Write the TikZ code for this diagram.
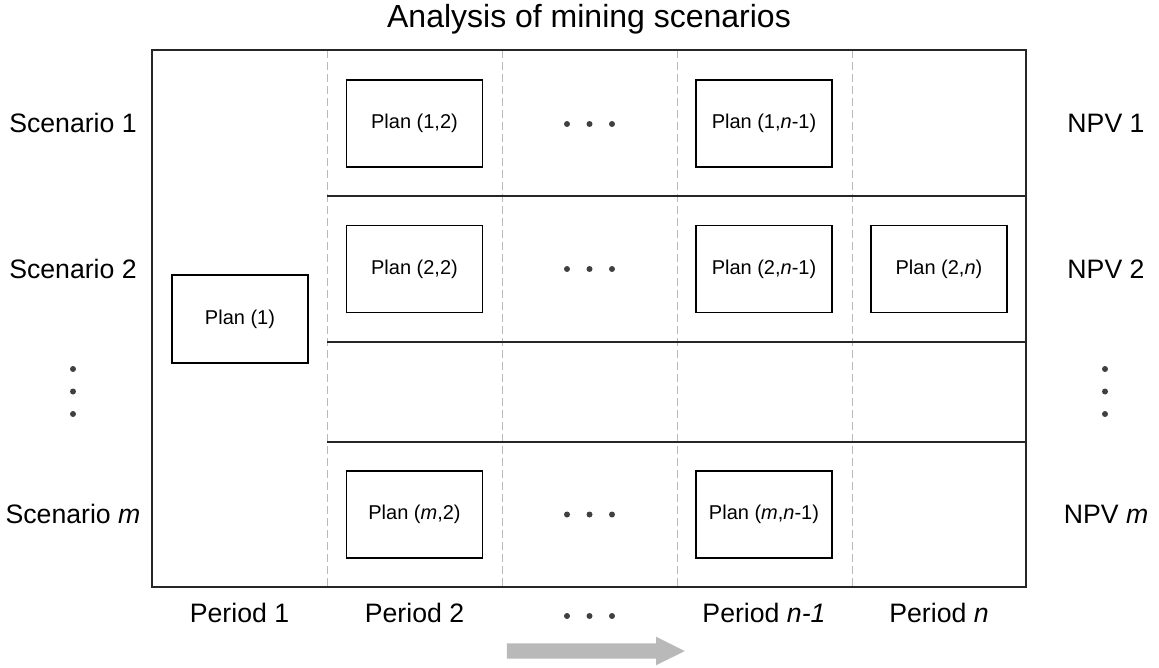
\documentclass[tikz,border=0pt]{standalone}
\usepackage{fontspec}
\setmainfont{Liberation Sans}
\usetikzlibrary{shapes.arrows}

\tikzset{
  plan/.style={draw=black, line width=0.9pt, minimum width=102pt, minimum height=65.25pt,
    inner sep=0pt, font=\fontsize{15pt}{18pt}\selectfont},
  rowlabel/.style={font=\fontsize{20pt}{24pt}\selectfont, inner sep=0pt, anchor=base},
  pdot/.style={circle, fill=black!75, inner sep=0pt, minimum size=4.5pt},
  divider/.style={gray!55, line width=0.75pt, dash pattern=on 6pt off 3pt},
  grid/.style={black!85, line width=0.8pt}
}

\begin{document}
\begin{tikzpicture}[x=0.75pt,y=0.75pt]
    \useasboundingbox (0,0) rectangle (1159,-667);
    \node[font=\fontsize{24pt}{28pt}\selectfont, inner sep=0pt, anchor=base] (title) at (589,-28) {Analysis of mining scenarios};
    % columns
    \foreach \x in {327,502,677,852}
        \draw[divider] (\x,-50) -- (\x,-587);
    % rows
    \draw[grid] (327,-196) -- (1026,-196);
    \draw[grid] (327,-342) -- (1026,-342);
    \draw[grid] (327,-442) -- (1026,-442);
    \draw[grid] (152,-50) rectangle (1026,-587);
    % plans
    \node[plan, line width=1.8pt, minimum height=66pt] (p1) at (240,-319) {Plan (1)};
    \node[plan] (p12) at (414.5,-123.5) {Plan (1,2)};
    \node[plan] (p1n) at (764,-123.5) {Plan (1,\textit{n}-1)};
    \node[plan] (p22) at (414.5,-269) {Plan (2,2)};
    \node[plan] (p2n) at (764,-269) {Plan (2,\textit{n}-1)};
    \node[plan] (p2nn) at (939,-269) {Plan (2,\textit{n})};
    \node[plan] (pm2) at (414.5,-514.5) {Plan (\textit{m},2)};
    \node[plan] (pmn) at (764,-514.5) {Plan (\textit{m},\textit{n}-1)};
    % dots
    \foreach \y/\r in {124/a,269/b,514.5/c,616/d}
        \foreach \x/\i in {567/1,589.5/2,612/3}
            \node[pdot] (dot\r\i) at (\x,-\y) {};
    \foreach \y/\i in {369/1,391.5/2,414/3} {
        \node[pdot] (vl\i) at (73,-\y) {};
        \node[pdot] (vr\i) at (1105,-\y) {};
    }
    % scenarios
    \node[rowlabel] (s1) at (73,-132.5) {Scenario 1};
    \node[rowlabel] (s2) at (73,-278) {Scenario 2};
    \node[rowlabel] (sm) at (73,-523.5) {Scenario \textit{m}};
    \node[rowlabel] (v1) at (1106,-132.5) {NPV 1};
    \node[rowlabel] (v2) at (1106,-278) {NPV 2};
    \node[rowlabel] (vm) at (1106,-523.5) {NPV \textit{m}};
    % periods
    \node[rowlabel] (t1) at (239.5,-622) {Period 1};
    \node[rowlabel] (t2) at (414.5,-622) {Period 2};
    \node[rowlabel] (tn1) at (764,-622) {Period \textit{n-1}};
    \node[rowlabel] (tn) at (939,-622) {Period \textit{n}};
    \node[single arrow, fill=gray!55, draw=none, inner xsep=0pt, inner ysep=5.6pt,
        single arrow head extend=4.9pt, single arrow tip angle=53, minimum height=133.5pt,
        outer sep=0pt] (time) at (588,-651) {};
\end{tikzpicture}
\end{document}
